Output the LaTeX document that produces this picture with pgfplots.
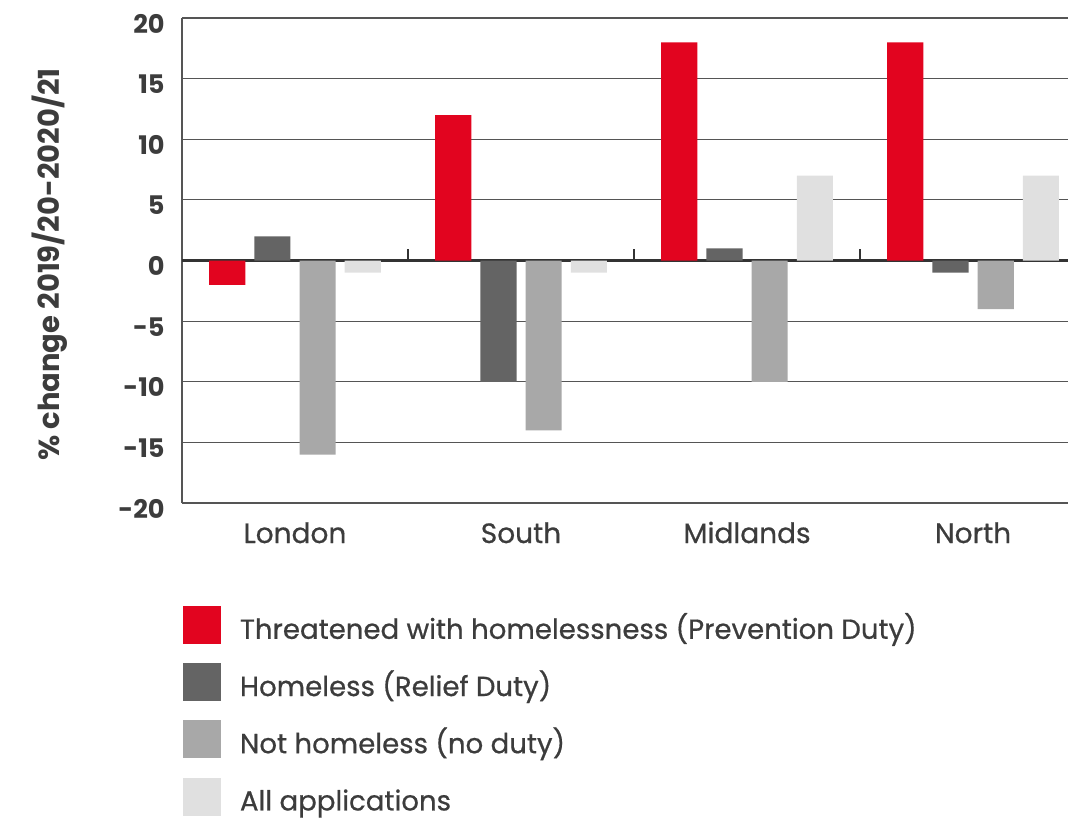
\documentclass[border=0pt]{standalone}
\usepackage{fontspec}
\setmainfont{Poppins}
\newfontfamily\medfont{Poppins}[FakeBold=0.6]
\usepackage{pgfplots}
\pgfplotsset{compat=1.18}
\definecolor{txt}{HTML}{3C3C3C}
\definecolor{cred}{HTML}{E2041F}
\definecolor{cdark}{HTML}{646464}
\definecolor{cmid}{HTML}{A8A8A8}
\definecolor{clight}{HTML}{E0E0E0}
\definecolor{gridc}{HTML}{555555}
\definecolor{zeroc}{HTML}{333333}
\pgfplotsset{sqlegend/.style={legend image code/.code={\fill[##1] (0pt,-6.35pt) rectangle (19pt,12.65pt);}}}
\begin{document}
\begin{tikzpicture}
\useasboundingbox (0,0) rectangle (534pt,-410.5pt);
\begin{axis}[
  at={(91pt,-251.5pt)}, anchor=south west,
  scale only axis, width=443pt, height=242.5pt,
  xmin=-0.5, xmax=3.42, ymin=-20, ymax=20,
  axis lines*=left,
  axis line style={gridc, line width=1pt},
  xtick={0,1,2,3}, xticklabels={London,South,Midlands,North},
  ytick={-20,-15,...,20}, yticklabels={-20,-15,-10,-5,0,5,10,15,20},
  major tick length=0pt,
  ymajorgrids, grid style={gridc, line width=0.6pt},
  extra y ticks={0}, extra y tick labels={},
  extra y tick style={grid style={zeroc, line width=1.2pt}},
  ybar, bar width=0.16,
  xticklabel style={font=\medfont\fontsize{14}{16}\selectfont, text=txt, anchor=base, yshift=-20pt, inner sep=0pt},
  yticklabel style={font=\bfseries\fontsize{12.8}{14}\selectfont, text=txt, anchor=base east, xshift=-8.5pt, yshift=-7.5pt, inner sep=0pt},
  ylabel={\% change 2019/20-2020/21},
  every axis y label/.style={at={(axis description cs:-0.1495,0.4918)}, rotate=90, anchor=center, font=\bfseries\fontsize{14.5}{16}\selectfont, text=txt},
  legend cell align=left,
  legend style={at={(0.0011,-0.2124)}, anchor=north west, draw=none, fill=none, inner sep=0pt, outer sep=0pt, row sep=9.6pt, column sep=9.5pt,
    nodes={inner sep=0pt, text height=10pt, text depth=2.5pt, font=\medfont\fontsize{13.8}{16}\selectfont, text=txt}},
]
\addplot[fill=cred, draw=none, bar shift=-0.3, sqlegend] coordinates {(0,-2) (1,12) (2,18) (3,18)};
\addplot[fill=cdark, draw=none, bar shift=-0.1, sqlegend] coordinates {(0,2) (1,-10) (2,1) (3,-1)};
\addplot[fill=cmid, draw=none, bar shift=0.1, sqlegend] coordinates {(0,-16) (1,-14) (2,-10) (3,-4)};
\addplot[fill=clight, draw=none, bar shift=0.3, sqlegend] coordinates {(0,-1) (1,-1) (2,7) (3,7)};
\legend{Threatened with homelessness (Prevention Duty), Homeless (Relief Duty), Not homeless (no duty), All applications}
\draw[zeroc, line width=1pt] (axis cs:0.5,0) -- ([yshift=6pt]axis cs:0.5,0);
\draw[zeroc, line width=1pt] (axis cs:1.5,0) -- ([yshift=6pt]axis cs:1.5,0);
\draw[zeroc, line width=1pt] (axis cs:2.5,0) -- ([yshift=6pt]axis cs:2.5,0);
\end{axis}
\end{tikzpicture}
\end{document}
